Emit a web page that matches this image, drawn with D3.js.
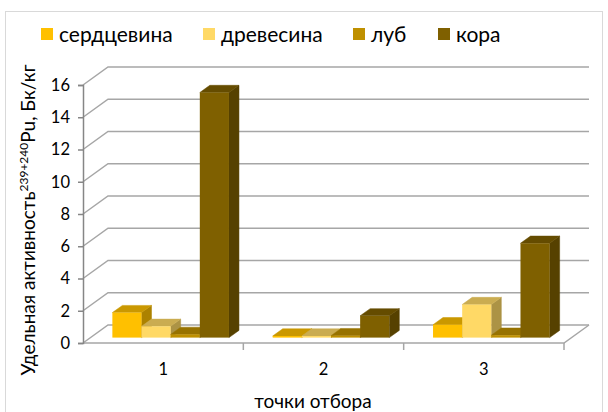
<!DOCTYPE html>
<html>
<head>
<meta charset="utf-8">
<script src="https://cdn.jsdelivr.net/npm/d3@7"></script>
<style>
    body { margin: 0; background: #fff; }
    svg text { font-family: Lato, 'Open Sans', sans-serif; fill: #000; }
</style>
</head>
<body>
<svg id="chart" width="608" height="412"></svg>
<script>
const categories = ['1', '2', '3'];
const seriesNames = ['сердцевина', 'древесина', 'луб', 'кора'];
const serdcevina = [1.55, 0.1, 0.8];
const drevesina = [0.7, 0.1, 2.05];
const lub = [0.2, 0.12, 0.15];
const kora = [15.2, 1.35, 5.85];
const yTicks = [0, 2, 4, 6, 8, 10, 12, 14, 16];
const seriesColors = ['#FFC000', '#FFD966', '#BF9000', '#7F6000'];

const seriesValues = [serdcevina, drevesina, lub, kora];

// front-left corner of the floor and full depth offset
const floor = {left: 83, right: 564, bottom: 343, top: 85};
const depth = {dx: 25, dy: -18};
const barDepth = [0.3, 0.7];

const svg = d3.select('#chart');

svg.append('rect')
    .attr('x', 5.5)
    .attr('y', 11.5)
    .attr('width', 597)
    .attr('height', 405)
    .attr('fill', '#fff')
    .attr('stroke', '#d9d9d9');

const scales = {};
scales.y = d3.scaleLinear()
    .domain([0, 16])
    .range([floor.bottom, floor.top]);
scales.x = d3.scaleBand()
    .domain(categories)
    .range([floor.left, floor.right]);
scales.series = d3.scaleBand()
    .domain(seriesNames)
    .range([0, scales.x.bandwidth()])
    .paddingOuter(0.75);

// walls: gridlines on left and back walls
const elGrid = svg.append('g').attr('class', 'grid');
elGrid.selectAll('path')
    .data(yTicks)
    .join('path')
    .attr('d', t => {
        const y = scales.y(t);
        return `M${floor.left},${y}L${floor.left + depth.dx},${y + depth.dy}L${floor.right + depth.dx},${y + depth.dy}`;
    })
    .attr('fill', 'none')
    .attr('stroke', '#a6a6a6')
    .attr('stroke-width', 1.5);

// floor edges
svg.append('path')
    .attr('d', `M${floor.left},${floor.bottom}L${floor.right},${floor.bottom}L${floor.right + depth.dx},${floor.bottom + depth.dy}`)
    .attr('fill', 'none')
    .attr('stroke', '#a6a6a6')
    .attr('stroke-width', 1.5);

// y axis
const yAxis = d3.axisLeft(scales.y)
    .tickValues(yTicks)
    .tickSize(5)
    .tickPadding(8);
const elYAxis = svg.append('g')
    .attr('transform', `translate(${floor.left},0)`)
    .call(yAxis);
elYAxis.select('.domain').attr('stroke', '#868686').attr('stroke-width', 1.5);
elYAxis.selectAll('.tick line').attr('stroke', '#868686').attr('stroke-width', 1.5);
elYAxis.selectAll('.tick text')
    .style('font-size', '16.5px')
    .attr('fill', '#000');

// x axis
const xAxis = d3.axisBottom(scales.x)
    .tickSize(0)
    .tickPadding(20);
const elXAxis = svg.append('g')
    .attr('transform', `translate(0,${floor.bottom})`)
    .call(xAxis);
elXAxis.select('.domain').remove();
elXAxis.selectAll('.tick text')
    .style('font-size', '16.5px')
    .attr('fill', '#000');
elXAxis.selectAll('line.sep')
    .data(categories)
    .join('line')
    .attr('class', 'sep')
    .attr('x1', c => scales.x(c) + scales.x.bandwidth())
    .attr('x2', c => scales.x(c) + scales.x.bandwidth())
    .attr('y1', 0)
    .attr('y2', 7)
    .attr('stroke', '#a6a6a6')
    .attr('stroke-width', 1.5);

// bars
const bars = [];
categories.forEach((c, ci) => {
    seriesNames.forEach((s, si) => {
        bars.push({cat: c, series: s, value: seriesValues[si][ci], color: seriesColors[si]});
    });
});

const ox = barDepth[0] * depth.dx;
const oy = barDepth[0] * depth.dy;
const ddx = (barDepth[1] - barDepth[0]) * depth.dx;
const ddy = (barDepth[1] - barDepth[0]) * depth.dy;
const bw = scales.series.bandwidth();

const elBars = svg.append('g').attr('class', 'bars');
const elBar = elBars.selectAll('g.bar')
    .data(bars)
    .join('g')
    .attr('class', 'bar');

function barX(d) {
    return scales.x(d.cat) + scales.series(d.series) + ox;
}

elBar.append('path')
    .attr('d', d => {
        const x = barX(d) + bw;
        const yt = scales.y(d.value) + oy;
        const yb = scales.y(0) + oy;
        return `M${x},${yt}L${x + ddx},${yt + ddy}L${x + ddx},${yb + ddy}L${x},${yb}Z`;
    })
    .attr('fill', d => d3.color(d.color).darker(1.1))
    .attr('stroke', d => d3.color(d.color).darker(1.1))
    .attr('stroke-width', 0.5);

elBar.append('path')
    .attr('d', d => {
        const x = barX(d);
        const yt = scales.y(d.value) + oy;
        return `M${x},${yt}L${x + ddx},${yt + ddy}L${x + bw + ddx},${yt + ddy}L${x + bw},${yt}Z`;
    })
    .attr('fill', d => d3.color(d.color).darker(0.65))
    .attr('stroke', d => d3.color(d.color).darker(0.65))
    .attr('stroke-width', 0.5);

elBar.append('rect')
    .attr('x', d => barX(d))
    .attr('y', d => scales.y(d.value) + oy)
    .attr('width', bw)
    .attr('height', d => scales.y(0) - scales.y(d.value))
    .attr('fill', d => d.color);

// axis titles
svg.append('text')
    .attr('x', 313)
    .attr('y', 408)
    .attr('text-anchor', 'middle')
    .style('font-size', '19px')
    .text('точки отбора');

const yTitle = svg.append('text')
    .attr('transform', 'translate(35,220) rotate(-90)')
    .attr('text-anchor', 'middle')
    .style('font-size', '19px');
yTitle.append('tspan').text('Удельная активность');
yTitle.append('tspan')
    .attr('dy', -7)
    .style('font-size', '12px')
    .text('239+240');
yTitle.append('tspan')
    .attr('dy', 7)
    .text('Pu, Бк/кг');

// legend
const legendX = [41, 203, 353, 438];
const elLegend = svg.append('g').attr('class', 'legend');
const elItem = elLegend.selectAll('g')
    .data(seriesNames)
    .join('g')
    .attr('transform', (d, i) => `translate(${legendX[i]},28)`);
elItem.append('rect')
    .attr('width', 12)
    .attr('height', 12)
    .attr('fill', (d, i) => seriesColors[i]);
elItem.append('text')
    .attr('x', 18)
    .attr('y', 14)
    .style('font-size', '21px')
    .text(d => d);
</script>
</body>
</html>
